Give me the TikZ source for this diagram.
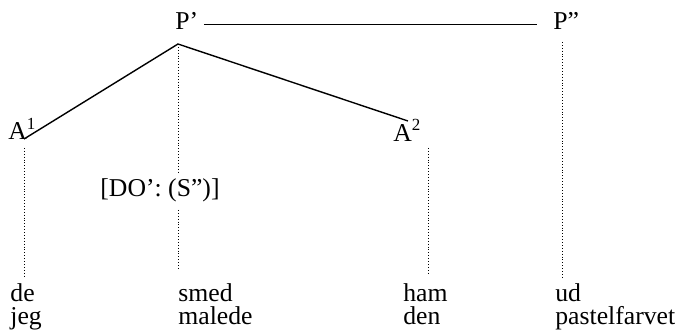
\documentclass[tikz,border=0pt]{standalone}
\usepackage{fontspec}
\setmainfont{Liberation Serif}
\usetikzlibrary{positioning}

\begin{document}
\begin{tikzpicture}[
    x=0.5pt, y=-0.5pt,
    % Styles for the tree
    word/.style={anchor=base west, inner sep=0pt, font=\fontsize{12.85}{15}\selectfont},
    branch/.style={line width=0.7pt, draw=black},
    trace/.style={line width=0.45pt, densely dotted, draw=black}
]
\useasboundingbox (0,0) rectangle (677,332);

        % --- Category labels ---
        \node[word] (p1) at (175, 30) {P’};
        \node[word] (p2) at (553, 30) {P”};
        \node[word] (a1) at (8, 140) {A\raisebox{0.42em}{\fontsize{8.5}{8}\selectfont 1}};
        \node[word] (a2) at (393, 141) {A\raisebox{0.42em}{\fontsize{8.5}{8}\selectfont 2}};
        \node[word] (do) at (100, 197) {[DO’: (S”)]};

        % --- Words ---
        \node[word] (w1a) at (10, 301) {de};
        \node[word] (w1b) at (10, 325) {jeg};
        \node[word] (w2a) at (178, 301) {smed};
        \node[word] (w2b) at (178, 325) {malede};
        \node[word] (w3a) at (403, 301) {ham};
        \node[word] (w3b) at (403, 325) {den};
        \node[word] (w4a) at (555, 301) {ud};
        \node[word] (w4b) at (555, 325) {pastelfarvet};

        % --- Tree points ---
        \coordinate (top) at (178, 44);
        \coordinate (a1top) at (24, 139);
        \coordinate (a2top) at (408, 121);
        \coordinate (a1foot) at (24, 148);
        \coordinate (a1end) at (24, 277);
        \coordinate (dotop) at (178, 172);
        \coordinate (dofoot) at (178, 210);
        \coordinate (doend) at (178, 270);
        \coordinate (a2foot) at (428, 148);
        \coordinate (a2end) at (428, 275);
        \coordinate (p2foot) at (562, 42);
        \coordinate (p2end) at (562, 277);
        \coordinate (linel) at (204, 24);
        \coordinate (liner) at (537, 24);

        % --- Edges ---
        \draw[branch] (a1top) -- (top) -- (a2top);
        \draw[line width=0.45pt] (linel) -- (liner);

        % --- Dotted links ---
        \draw[trace] (top) -- (dotop);
        \draw[trace] (dofoot) -- (doend);
        \draw[trace] (a1foot) -- (a1end);
        \draw[trace] (a2foot) -- (a2end);
        \draw[trace] (p2foot) -- (p2end);

\end{tikzpicture}
\end{document}
